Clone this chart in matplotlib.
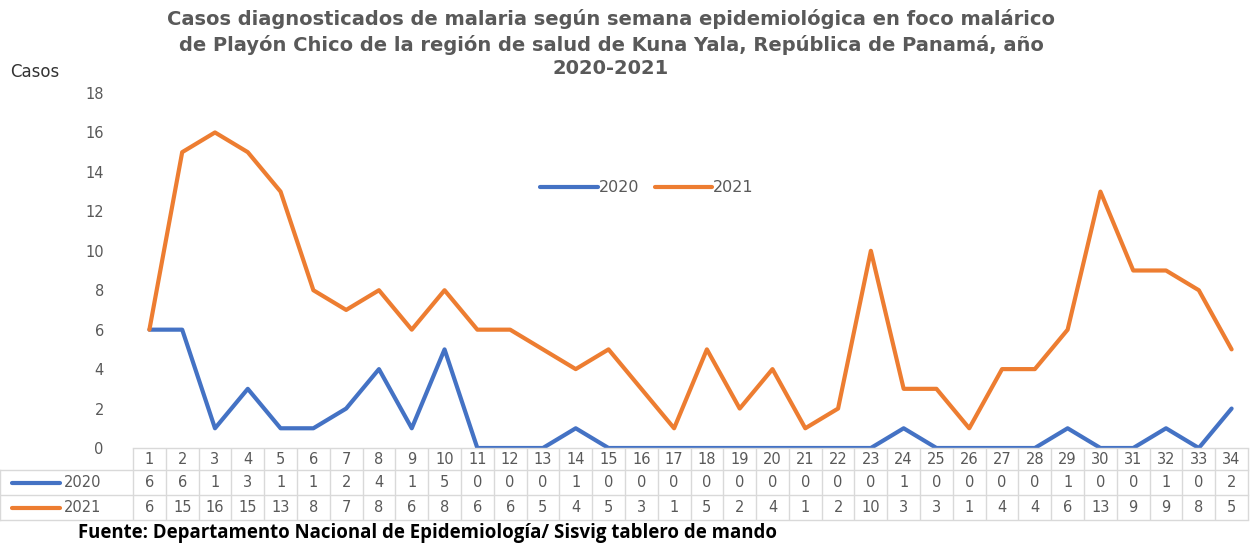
import matplotlib.pyplot as plt
import numpy as np

plt.rcParams['font.family'] = ['DejaVu Sans']

# weekly malaria cases, Playón Chico
semanas = list(range(1, 35))
casos_2020 = [6, 6, 1, 3, 1, 1, 2, 4, 1, 5, 0, 0, 0, 1, 0, 0, 0, 0, 0, 0,
              0, 0, 0, 1, 0, 0, 0, 0, 1, 0, 0, 1, 0, 2]
casos_2021 = [6, 15, 16, 15, 13, 8, 7, 8, 6, 8, 6, 6, 5, 4, 5, 3, 1, 5, 2, 4,
              1, 2, 10, 3, 3, 1, 4, 4, 6, 13, 9, 9, 8, 5]
series = ['2020', '2021']
colores = ['#4472C4', '#ED7D31']

gris = '#595959'
borde = '#d9d9d9'
W, H = 1250, 543

fig = plt.figure(figsize=(W / 100, H / 100), dpi=100)
ax = fig.add_axes([133 / W, 1 - 448 / H, (1248 - 133) / W, (448 - 93) / H])

x = np.arange(len(semanas))
for nombre, vals, c in zip(series, [casos_2020, casos_2021], colores):
    ax.plot(x, vals, color=c, lw=3, label=nombre, solid_joinstyle='round',
            solid_capstyle='round')

ax.set_xlim(-0.5, len(semanas) - 0.5)
ax.set_ylim(0, 18)
ax.set_yticks(np.arange(0, 19, 2))
ax.set_xticks([])
ax.tick_params(axis='y', length=0, pad=21, labelsize=10.5, labelcolor=gris)
for s in ax.spines.values():
    s.set_visible(False)

leg = ax.legend(loc='upper center', bbox_to_anchor=(0.461, 0.795), ncol=2,
                frameon=False, fontsize=11.5, handlelength=3.6,
                columnspacing=1.0, handletextpad=0.05)
for t in leg.get_texts():
    t.set_color(gris)

# data table under the plot
px = 355.0  # axes height in pixels
def ay(ypix):
    return (448 - ypix) / px

def axx(xpix):
    return (xpix - 133) / 1115

filas = [448, 470, 495, 520]
tr = ax.get_xaxis_transform()
left = axx(0)
ax.plot([0, 1], [ay(448)] * 2, color=borde, lw=1, transform=ax.transAxes, clip_on=False)
for yp in filas[1:]:
    ax.plot([left, 1], [ay(yp)] * 2, color=borde, lw=1, transform=ax.transAxes, clip_on=False)
ax.vlines(np.arange(len(semanas) + 1) - 0.5, ay(520), ay(448), colors=borde, lw=1,
          transform=tr, clip_on=False)
ax.plot([left, left], [ay(470), ay(520)], color=borde, lw=1, transform=ax.transAxes, clip_on=False)

for i, s in enumerate(semanas):
    ax.text(i, ay(459), str(s), transform=tr, ha='center', va='center',
            fontsize=10.5, color=gris)
    ax.text(i, ay(482.5), str(casos_2020[i]), transform=tr, ha='center', va='center',
            fontsize=10.5, color=gris)
    ax.text(i, ay(507.5), str(casos_2021[i]), transform=tr, ha='center', va='center',
            fontsize=10.5, color=gris)

for nombre, c, yp in zip(series, colores, [482.5, 507.5]):
    ax.plot([axx(12), axx(60)], [ay(yp)] * 2, color=c, lw=3,
            transform=ax.transAxes, clip_on=False, solid_capstyle='round')
    ax.text(axx(64), ay(yp), nombre, transform=ax.transAxes, ha='left', va='center',
            fontsize=10.5, color=gris)

titulo = ['Casos diagnosticados de malaria según semana epidemiológica en foco malárico',
          'de Playón Chico de la región de salud de Kuna Yala, República de Panamá, año',
          '2020-2021']
for linea, yp in zip(titulo, [19, 45, 69]):
    fig.text(611 / W, 1 - yp / H, linea, ha='center', va='center', fontsize=14,
             fontweight='bold', color=gris)
fig.text(10 / W, 1 - 72 / H, 'Casos', ha='left', va='center', fontsize=12,
         color='#333333')
fig.text(78 / W, 1 - 533 / H,
         'Fuente: Departamento Nacional de Epidemiología/ Sisvig tablero de mando',
         ha='left', va='center', fontsize=13.4, fontweight='bold', color='black',
         family='Open Sans')

fig.savefig('out.png', dpi=100, facecolor='white')
